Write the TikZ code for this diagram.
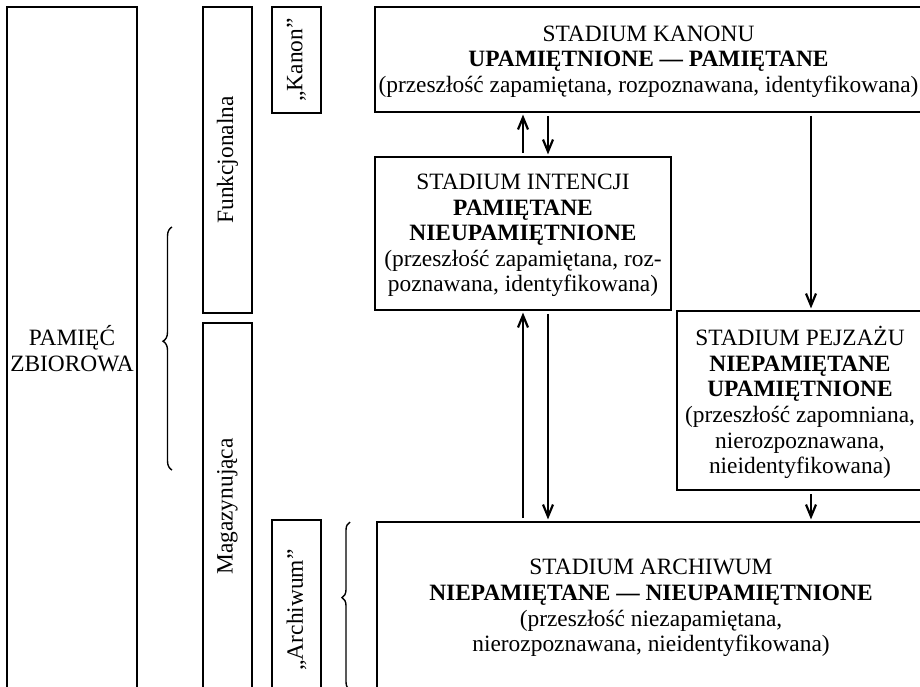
\documentclass[tikz,border=0pt]{standalone}
\usepackage{fontspec}
\setmainfont{Liberation Serif}
\usetikzlibrary{fit,arrows.meta,decorations.pathreplacing}
\tikzstyle{sidebox} = [draw=black, line width=1.4pt, rectangle, inner sep=0pt]
\tikzstyle{stagetext} = [inner sep=0pt, align=center, font=\fontsize{11.7}{12.8}\selectfont]
\tikzstyle{sidelabel} = [rotate=90, inner sep=0pt, font=\fontsize{11.7}{12.8}\selectfont]
\tikzstyle{arr} = [-{Straight Barb[length=6pt,width=5pt]}, line width=1.1pt,
    shorten <=1.2pt, shorten >=0.6pt]
\tikzstyle{mybrace} = [decorate, line width=0.7pt]

\begin{document}
\begin{tikzpicture}[x=0.5pt,y=-0.5pt]
                \useasboundingbox (0,0) rectangle (920,686);
                \clip (0,0) rectangle (920,686);
                % lewa kolumna
                \node[sidebox, fit={(7,7) (137,690)}] (pamiec) {};
                \node[sidebox, fit={(203,7) (252,313)}] (funkcj) {};
                \node[sidebox, fit={(203,323) (252,690)}] (magazyn) {};
                \node[sidebox, fit={(272,7) (321,113)}] (kanonq) {};
                \node[sidebox, fit={(272,520) (321,700)}] (archq) {};
                \node[stagetext] (pamiectxt) at (pamiec.center) {PAMIĘĆ\\ZBIOROWA};
                \node[sidelabel] (funkcjtxt) at (funkcj.center) {Funkcjonalna};
                \node[sidelabel] (magazyntxt) at (magazyn.center) {Magazynująca};
                \node[sidelabel] (kanonqtxt) at (kanonq.center) {„Kanon”};
                \node[sidelabel] (archqtxt) at (archq.center) {„Archiwum”};
                \draw[mybrace, decoration={brace, amplitude=4.5pt, aspect=0.53}] (172,470) -- (172,227);
                \draw[mybrace, decoration={brace, amplitude=4pt, aspect=0.55}] (350,690) -- (350,522);
                % stadia
                \node[sidebox, fit={(375,7) (922,112)}] (kanon) {};
                \node[sidebox, fit={(375,157) (671,310)}] (intencji) {};
                \node[sidebox, fit={(677,311) (923,490)}] (pejzaz) {};
                \node[sidebox, fit={(377,522) (925,690)}] (archiwum) {};
                \node[stagetext] (kanontxt) at ([yshift=-1pt]kanon.center) {STADIUM KANONU\\
                    \textbf{UPAMIĘTNIONE — PAMIĘTANE}\\
                    (przeszłość zapamiętana, rozpoznawana, identyfikowana)};
                \node[stagetext] (intencjitxt) at ([yshift=-1pt]intencji.center) {STADIUM INTENCJI\\
                    \textbf{PAMIĘTANE}\\\textbf{NIEUPAMIĘTNIONE}\\
                    (przeszłość zapamiętana, roz-\\poznawana, identyfikowana)};
                \node[stagetext] (pejzaztxt) at ([yshift=-1pt]pejzaz.center) {STADIUM PEJZAŻU\\
                    \textbf{NIEPAMIĘTANE}\\\textbf{UPAMIĘTNIONE}\\
                    (przeszłość zapomniana,\\nierozpoznawana,\\nieidentyfikowana)};
                \node[stagetext] (archiwumtxt) at ([yshift=-1pt]archiwum.center) {STADIUM ARCHIWUM\\
                    \textbf{NIEPAMIĘTANE — NIEUPAMIĘTNIONE}\\
                    (przeszłość niezapamiętana,\\nierozpoznawana, nieidentyfikowana)};
                % strzalki
                \coordinate (lx) at (523,0);
                \coordinate (rx) at (548,0);
                \coordinate (px) at (811,0);
                \draw[arr] (lx |- intencji.north) -- (lx |- kanon.south);
                \draw[arr] (rx |- kanon.south) -- (rx |- intencji.north);
                \draw[arr] (lx |- archiwum.north) -- (lx |- intencji.south);
                \draw[arr] (rx |- intencji.south) -- (rx |- archiwum.north);
                \draw[arr] (px |- kanon.south) -- (px |- pejzaz.north);
                \draw[arr] (px |- pejzaz.south) -- (px |- archiwum.north);
            \end{tikzpicture}
\end{document}
